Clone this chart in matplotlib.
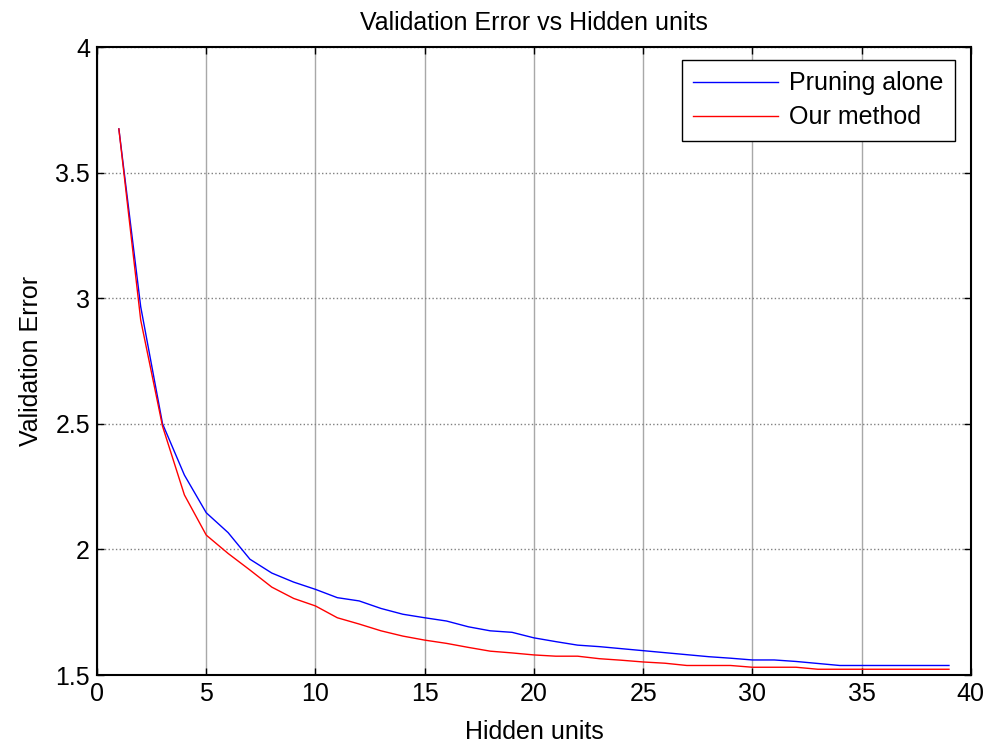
import matplotlib
matplotlib.use("Agg")
import matplotlib.pyplot as plt

plt.rcParams['font.family'] = ['Liberation Sans', 'DejaVu Sans']

# Data
hidden_units = list(range(1, 40))
pruning_alone = [3.674, 2.966, 2.500, 2.296, 2.146, 2.067, 1.961, 1.906, 1.870, 1.841,
                 1.808, 1.795, 1.765, 1.742, 1.728, 1.715, 1.692, 1.676, 1.670, 1.648,
                 1.633, 1.619, 1.613, 1.605, 1.597, 1.589, 1.581, 1.573, 1.567, 1.560,
                 1.560, 1.554, 1.546, 1.538, 1.538, 1.538, 1.538, 1.538, 1.538]
our_method = [3.674, 2.913, 2.490, 2.217, 2.057, 1.984, 1.918, 1.850, 1.805, 1.775,
              1.728, 1.703, 1.676, 1.655, 1.639, 1.626, 1.610, 1.595, 1.588, 1.580,
              1.575, 1.575, 1.565, 1.559, 1.552, 1.547, 1.538, 1.538, 1.538, 1.531,
              1.531, 1.531, 1.523, 1.523, 1.523, 1.523, 1.523, 1.523, 1.523]

fig = plt.figure(figsize=(9.84, 7.44), dpi=100)
ax = fig.add_axes([0.0986, 0.0927, 0.888, 0.8441])

ax.plot(hidden_units, pruning_alone, color='blue', lw=1, label='Pruning alone')
ax.plot(hidden_units, our_method, color='red', lw=1, label='Our method')

ax.set_xlim(0, 40)
ax.set_ylim(1.5, 4)
ax.set_xticks(range(0, 41, 5))
ax.set_yticks([1.5, 2, 2.5, 3, 3.5, 4])
ax.set_yticklabels(['1.5', '2', '2.5', '3', '3.5', '4'])

# MATLAB-style grid: solid verticals, dotted horizontals
ax.xaxis.grid(True, color='#a8a8a8', lw=1, ls='-')
ax.yaxis.grid(True, color='#808080', lw=1, ls=':')
ax.set_axisbelow(True)

ax.tick_params(direction='in', top=True, right=True, length=5, width=1,
               labelsize=18, pad=5, colors='black')
for s in ax.spines.values():
    s.set_linewidth(1.5)

ax.set_title('Validation Error vs Hidden units', fontsize=18, pad=12)
ax.set_xlabel('Hidden units', fontsize=18, labelpad=10)
ax.set_ylabel('Validation Error', fontsize=18, labelpad=9)

leg = ax.legend(loc='upper right', bbox_to_anchor=(0.982, 0.979), fontsize=18,
                fancybox=False, framealpha=1, edgecolor='black',
                handlelength=3.4, borderpad=0.45, labelspacing=0.4,
                handletextpad=0.45, borderaxespad=0)
leg.get_frame().set_linewidth(1)

fig.savefig('out.png', dpi=100)
